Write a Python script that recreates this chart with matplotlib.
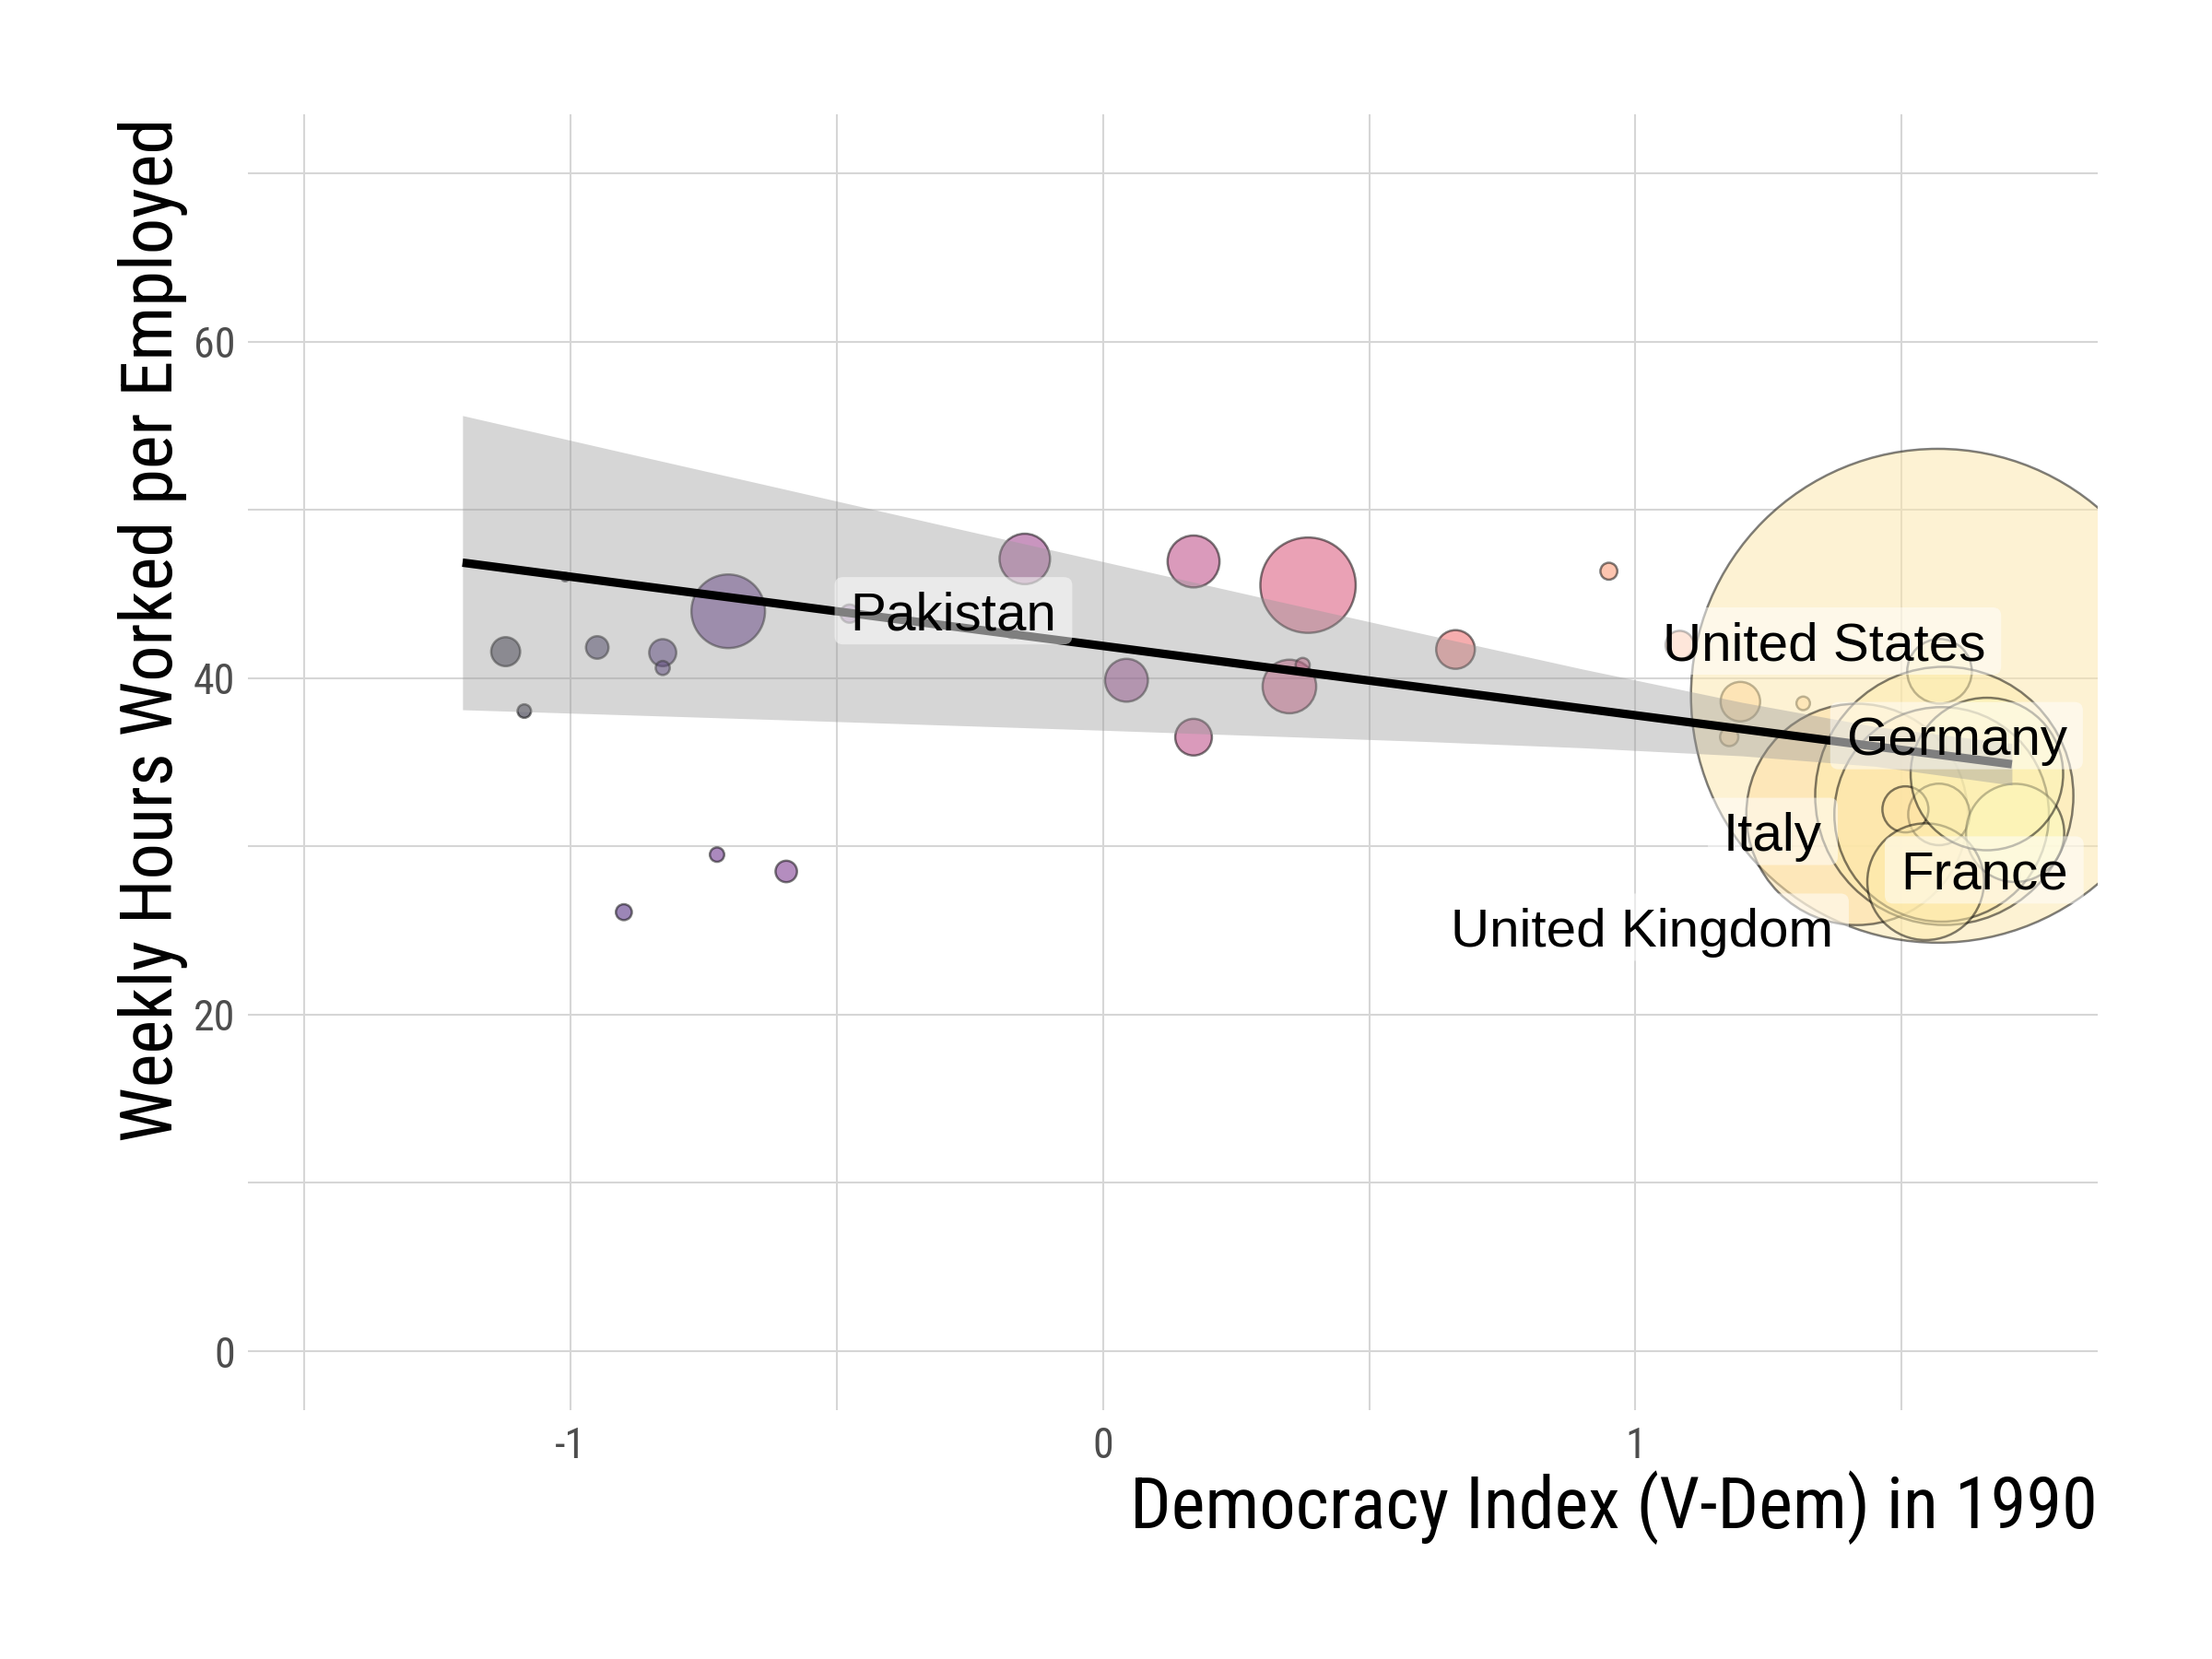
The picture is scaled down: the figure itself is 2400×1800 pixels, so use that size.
import numpy as np
import matplotlib
matplotlib.use("Agg")
import matplotlib.pyplot as plt
from matplotlib import font_manager
from matplotlib.font_manager import FontProperties
from matplotlib.patches import FancyBboxPatch

# points: democracy index, weekly hours, bubble size variable, colour variable
dem_index = [-1.122, -1.087, -1.01, -0.950, -0.827, -0.827, -0.704, -0.900, -0.725, -0.595,
             -0.476, -0.171, -0.147, 0.044, 0.170, 0.170, 0.385, 0.350, 0.375, 0.662,
             0.950, 1.083, 1.197, 1.176, 1.315,
             1.568, 1.571, 1.416, 1.580, 1.575, 1.570, 1.507, 1.713, 1.545, 1.660]
weekly_hours = [41.57, 38.04, 46.0, 41.82, 41.51, 40.6, 43.97, 26.09, 29.51, 28.51,
                43.83, 42.7, 47.08, 39.87, 46.93, 36.49, 45.52, 39.5, 40.78, 41.7,
                46.35, 41.97, 38.6, 36.5, 38.5,
                38.95, 40.4, 31.9, 33.0, 31.9, 31.9, 32.2, 30.8, 27.9, 34.3]
size_var = [1.06, 0.23, 0.09, 0.64, 0.92, 0.25, 6.81, 0.32, 0.26, 0.58,
            0.42, 0.16, 3.2, 2.31, 3.39, 1.69, 11.42, 3.61, 0.25, 1.88,
            0.36, 1.0, 1.96, 0.42, 0.23,
            306.25, 5.24, 61.5, 83.7, 57.8, 4.75, 2.66, 12.1, 17.1, 29.2]
colour_var = [0.05, 0.05, 0.10, 0.12, 0.18, 0.18, 0.22, 0.20, 0.27, 0.32,
              0.30, 0.40, 0.42, 0.40, 0.50, 0.50, 0.58, 0.55, 0.55, 0.66,
              0.76, 0.80, 0.88, 0.88, 0.90,
              0.95, 0.97, 0.93, 0.96, 0.95, 0.95, 0.94, 1.00, 0.96, 0.98]

# linear fit with confidence band
fit_x = [-1.203, -0.9, -0.6, -0.3, 0.0, 0.3, 0.6, 0.9, 1.2, 1.45, 1.707]
fit_y = [46.86, 45.61, 44.38, 43.14, 41.91, 40.67, 39.44, 38.20, 36.97, 35.94, 34.88]
fit_lo = [38.12, 37.82, 37.52, 37.21, 36.90, 36.57, 36.24, 35.86, 35.38, 34.76, 33.64]
fit_hi = [55.60, 53.40, 51.24, 49.07, 46.92, 44.77, 42.64, 40.54, 38.56, 37.12, 36.12]

label_names = ["Pakistan", "United States", "Germany", "Italy", "France", "United Kingdom"]
label_x = [-0.281, 1.354, 1.603, 1.258, 1.655, 1.012]
label_y = [44.0, 42.2, 36.58, 30.89, 28.6, 25.2]


def find_narrow_font():
    # look for a condensed / narrow sans face among the installed fonts
    prefs = ["liberation sans narrow", "arial narrow", "roboto condensed",
             "open sans condensed", "noto sans", "dejavu sans", "lato", "inter"]
    found = []
    for f in font_manager.fontManager.ttflist:
        nm = f.name.lower()
        fn = f.fname.lower()
        narrow = ("narrow" in nm or "condensed" in nm or "condensed" in fn
                  or "narrow" in fn or str(f.stretch) in ("condensed", "semi-condensed"))
        if not narrow or f.style != "normal":
            continue
        if "bold" in fn or "light" in fn or "thin" in fn or "black" in fn or "medium" in fn:
            continue
        if "oblique" in fn or "italic" in fn or "mono" in nm or "serif" in nm.replace("sans", ""):
            continue
        found.append(f)
    for p in prefs:
        for f in found:
            if f.name.lower().startswith(p):
                return f.fname
    return found[0].fname if found else None


available = {f.name for f in font_manager.fontManager.ttflist}
regular = "Liberation Sans" if "Liberation Sans" in available else "DejaVu Sans"
narrow_file = find_narrow_font()
if narrow_file:
    title_fp = FontProperties(fname=narrow_file, size=18.8)
    tick_fp = FontProperties(fname=narrow_file, size=11)
else:
    title_fp = FontProperties(family=regular, size=16.5)
    tick_fp = FontProperties(family=regular, size=10.5)

fig = plt.figure(figsize=(8, 6), dpi=300)
ax = fig.add_axes([0.1121, 0.15, 0.8362, 0.7811])

cmap = plt.get_cmap("magma")
ax.scatter(dem_index, weekly_hours, s=np.array(size_var) * 54,
           c=cmap(np.array(colour_var)), edgecolors="black", linewidths=0.6,
           alpha=0.5, zorder=2)

ax.fill_between(fit_x, fit_lo, fit_hi, color="#999999", alpha=0.4, lw=0, zorder=3)
ax.plot(fit_x, fit_y, color="black", lw=2.2, solid_capstyle="butt", zorder=4)

label_fs = 14
texts = []
for name, lx, ly in zip(label_names, label_x, label_y):
    # baseline placed half a cap height below the box centre
    t = ax.annotate(name, (lx, ly), xytext=(0, -0.358 * label_fs),
                    textcoords="offset points", ha="center", va="baseline",
                    fontsize=label_fs, family=regular, color="black", zorder=6)
    texts.append(t)

ax.set_xlim(-1.606, 1.868)
ax.set_ylim(-3.5, 73.5)
ax.set_xticks([-1, 0, 1])
ax.set_xticklabels(["-1", "0", "1"])
ax.set_xticks([-1.5, -0.5, 0.5, 1.5], minor=True)
ax.set_yticks([0, 20, 40, 60])
ax.set_yticks([10, 30, 50, 70], minor=True)
ax.grid(True, which="both", color="#d6d6d6", lw=0.5, zorder=0)
ax.set_axisbelow(True)
for sp in ax.spines.values():
    sp.set_visible(False)
ax.tick_params(which="both", length=0)
ax.tick_params(axis="x", pad=4, labelcolor="#4d4d4d")
ax.tick_params(axis="y", pad=3.3, labelcolor="#4d4d4d")
for lab in ax.get_xticklabels() + ax.get_yticklabels():
    lab.set_fontproperties(tick_fp)

ax.set_xlabel("Democracy Index (V-Dem) in 1990", fontproperties=title_fp)
ax.xaxis.set_label_coords(1.0, -0.0908)
ax.xaxis.label.set_horizontalalignment("right")
ax.xaxis.label.set_verticalalignment("baseline")

ax.set_ylabel("Weekly Hours Worked per Employed", fontproperties=title_fp)
ax.yaxis.set_label_coords(-0.041, 0.997)
ax.yaxis.label.set_rotation_mode("anchor")
ax.yaxis.label.set_horizontalalignment("right")
ax.yaxis.label.set_verticalalignment("baseline")

# semi-transparent label boxes behind the country names
fig.canvas.draw()
renderer = fig.canvas.get_renderer()
for t, lx, ly in zip(texts, label_x, label_y):
    bb = t.get_window_extent(renderer)
    cx = (bb.x0 + bb.x1) / 2
    cy = ax.transData.transform((lx, ly))[1]
    w, h = bb.width + 34, 73
    box = FancyBboxPatch((cx - w / 2, cy - h / 2), w, h,
                         boxstyle="round,pad=0,rounding_size=9",
                         transform=None, facecolor="white", edgecolor="none",
                         alpha=0.5, zorder=5)
    ax.add_artist(box)

fig.savefig("out.png", dpi=300)
